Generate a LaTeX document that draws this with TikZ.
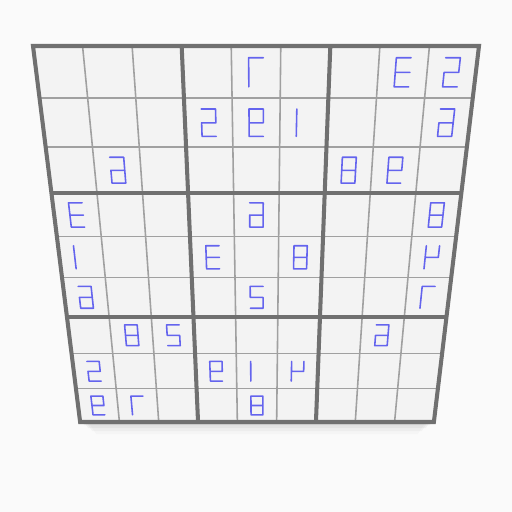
\documentclass[tikz,border=0pt]{standalone}
\begin{document}
\begin{tikzpicture}[x=0.01cm,y=-0.01cm,
  declare function={
    vy(\v)=46+376*1.284*(\v/9)/(1+0.284*(\v/9));
    fr(\v)=(vy(\v)-46)/375;
    hx(\u,\v)=(33+47*fr(\v))+(\u/9)*((479-45*fr(\v))-(33+47*fr(\v)));
  }]
\definecolor{bg}{RGB}{250,250,250}
\definecolor{board}{RGB}{243,243,243}
\definecolor{thick}{RGB}{112,112,112}
\definecolor{thinl}{RGB}{160,160,160}
\definecolor{digc}{RGB}{100,100,238}
\tikzset{
  thinline/.style={draw=thinl,line width=0.45pt},
  boxline/.style={draw=thick,line width=1.15pt},
  digit/.style={draw=digc,line width=0.45pt,line join=round,line cap=round},
}
\useasboundingbox (0,0) rectangle (512,512);
\fill[bg] (0,0) rectangle (512,512);
% faint shadow below the board
\foreach \k/\o in {1/0.05,2/0.04,3/0.03,4/0.02}{
  \fill[black,opacity=\o] ({hx(0,9)+2*\k},{vy(9)}) -- ({hx(9,9)-2*\k},{vy(9)}) -- ({hx(9,9)-4*\k},{vy(9)+3*\k}) -- ({hx(0,9)+4*\k},{vy(9)+3*\k}) -- cycle;
}
\coordinate (GTL) at ({hx(0,0)},{vy(0)});
\coordinate (GTR) at ({hx(9,0)},{vy(0)});
\coordinate (GBR) at ({hx(9,9)},{vy(9)});
\coordinate (GBL) at ({hx(0,9)},{vy(9)});
\fill[board] (GTL) -- (GTR) -- (GBR) -- (GBL) -- cycle;
\foreach \i in {1,2,4,5,7,8}{
  \draw[thinline] ({hx(\i,0)},{vy(0)}) -- ({hx(\i,9)},{vy(9)});
  \draw[thinline] ({hx(0,\i)},{vy(\i)}) -- ({hx(9,\i)},{vy(\i)});
}
\foreach \i in {3,6}{
  \draw[boxline] ({hx(\i,0)},{vy(0)}) -- ({hx(\i,9)},{vy(9)});
  \draw[boxline] ({hx(0,\i)},{vy(\i)}) -- ({hx(9,\i)},{vy(\i)});
}
\draw[boxline,line join=miter] (GTL) -- (GTR) -- (GBR) -- (GBL) -- cycle;
% mirrored seven-segment digits
\newcommand\dgt[3]{%
  \coordinate (TL) at ({hx(#1+0.35,#2+0.22)},{vy(#2+0.22)});
  \coordinate (TR) at ({hx(#1+0.65,#2+0.22)},{vy(#2+0.22)});
  \coordinate (ML) at ({hx(#1+0.35,#2+0.5)},{vy(#2+0.5)});
  \coordinate (MR) at ({hx(#1+0.65,#2+0.5)},{vy(#2+0.5)});
  \coordinate (BL) at ({hx(#1+0.35,#2+0.78)},{vy(#2+0.78)});
  \coordinate (BR) at ({hx(#1+0.65,#2+0.78)},{vy(#2+0.78)});
  \ifcase#3\relax
  \or \draw[digit] (TL) -- (BL);
  \or \draw[digit] (TR) -- (TL) -- (ML) -- (MR) -- (BR) -- (BL);
  \or \draw[digit] (TR) -- (TL) -- (BL) -- (BR) (ML) -- (MR);
  \or \draw[digit] (TL) -- (BL) (ML) -- (MR) -- (TR);
  \or \draw[digit] (TL) -- (TR) -- (MR) -- (ML) -- (BL) -- (BR);
  \or \draw[digit] (TL) -- (TR) -- (BR) -- (BL) -- (ML) -- (MR);
  \or \draw[digit] (TR) -- (TL) -- (BL);
  \or \draw[digit] (TL) -- (TR) -- (BR) -- (BL) -- cycle (ML) -- (MR);
  \or \draw[digit] (BR) -- (BL) -- (TL) -- (TR) -- (MR) -- (ML);
  \fi}
\foreach \c/\r/\n in {4/0/7,7/0/3,8/0/5,
  3/1/5,4/1/9,5/1/1,8/1/6,
  1/2/6,6/2/8,7/2/9,
  0/3/3,4/3/6,8/3/8,
  0/4/1,3/4/3,5/4/8,8/4/4,
  0/5/6,4/5/2,8/5/7,
  1/6/8,2/6/2,7/6/6,
  0/7/5,3/7/9,4/7/1,5/7/4,
  0/8/9,1/8/7,4/8/8}{
  \dgt{\c}{\r}{\n}
}
\end{tikzpicture}
\end{document}
